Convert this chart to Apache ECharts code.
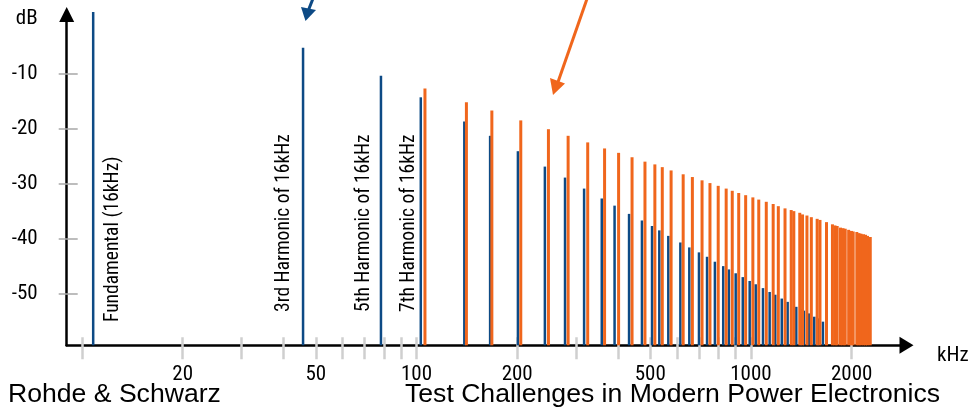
<!DOCTYPE html>
<html>
<head>
<meta charset="utf-8">
<script src="https://cdn.jsdelivr.net/npm/echarts@6/dist/echarts.min.js"></script>
<style>
html, body { margin: 0; padding: 0; background: #fff; }
#chart { width: 971px; height: 409px; }
</style>
</head>
<body>
<div id="chart"></div>
<script>
// harmonics of the 16 kHz fundamental (blue)
const blueKHz = [10.8, 45.8, 78.3, 103, 139, 166, 201, 242, 278, 317,
  358, 391, 432, 472, 506, 532, 566, 615, 654, 699,
  739, 780, 826, 859, 900, 945, 991, 1033, 1086, 1137,
  1182, 1236, 1287, 1366, 1408, 1440, 1488, 1546, 1586, 1641];
const blueDb = [1.2, -5.3, -10.4, -14.3, -18.7, -21.3, -24.1, -26.9, -28.9, -30.9,
  -32.7, -34.0, -35.5, -36.7, -37.7, -38.5, -39.5, -40.7, -41.6, -42.5,
  -43.3, -44.2, -45.0, -45.6, -46.3, -47.0, -47.7, -48.3, -49.0, -49.7,
  -50.2, -50.9, -51.5, -52.4, -52.8, -53.1, -53.6, -54.2, -54.5, -55.1];

// orange spectrum lines
const orangeKHz = [106, 141, 168, 205, 248, 284, 325, 365, 402, 441,
  482, 516, 543, 577, 627, 668, 714, 754, 798, 843,
  879, 919, 964, 1013, 1055, 1111, 1165, 1207, 1264, 1319,
  1343, 1399, 1426, 1470, 1515, 1577, 1608, 1682, 1752, 1783,
  1810, 1852, 1884, 1913, 1959, 1997, 2021, 2072, 2103, 2132,
  2169, 2200, 2230, 2273];
const orangeDb = [-12.7, -15.2, -16.7, -18.5, -20.1, -21.3, -22.5, -23.6, -24.4, -25.2,
  -26.0, -26.5, -27.0, -27.6, -28.3, -28.8, -29.4, -29.9, -30.4, -30.9,
  -31.3, -31.7, -32.1, -32.5, -32.9, -33.3, -33.7, -34.1, -34.5, -34.8,
  -35.0, -35.3, -35.6, -35.8, -36.1, -36.4, -36.6, -37.0, -37.4, -37.6,
  -37.7, -38.0, -38.1, -38.2, -38.4, -38.6, -38.7, -38.8, -39.0, -39.1,
  -39.2, -39.3, -39.5, -39.7];

const xTickKHz = [10, 20, 30, 40, 50, 60, 70, 80, 90, 100,
  200, 300, 400, 500, 600, 700, 800, 900, 1000, 2000];
const xLabelKHz = [20, 50, 100, 200, 500, 1000, 2000];
const yTickDb = [-50, -40, -30, -20, -10];
const yLabelDb = [-50, -40, -30, -20, -10, 0];

const X_MIN = 9.0;
const X_MAX = 2917;
const Y_MIN = -59.4;
const Y_MAX = 0.76;

const BLUE = '#0d4a85';
const ORANGE = '#f0661c';
const NARROW = '"Liberation Sans Narrow", "Roboto Condensed", "DejaVu Sans Condensed", Roboto, sans-serif';

const chart = echarts.init(document.getElementById('chart'));

const stem = (width) => (params, api) => {
  const top = api.coord([api.value(0), api.value(1)]);
  const base = api.coord([api.value(0), Y_MIN]);
  return {
    type: 'line',
    shape: { x1: top[0], y1: top[1], x2: base[0], y2: base[1] },
    style: { stroke: api.visual('color'), lineWidth: width },
  };
};

const vText = (x, y, text) => ({
  type: 'text',
  x: x,
  y: y,
  rotation: Math.PI / 2,
  style: {
    text: text,
    font: '19.5px ' + NARROW,
    fill: '#000',
    align: 'left',
    verticalAlign: 'middle',
    textAlign: 'left',
    textVerticalAlign: 'middle',
  },
});

const option = {
  animation: false,
  backgroundColor: '#fff',
  grid: { left: 66.7, right: 64.5, top: 14.5, bottom: 63.7 },
  xAxis: [
    {
      type: 'log',
      min: X_MIN,
      max: X_MAX,
      position: 'bottom',
      axisLine: {
        show: true,
        onZero: false,
        lineStyle: { color: '#000', width: 2.5 },
        symbol: ['none', 'triangle'],
        symbolSize: [17, 14],
      },
      axisTick: { show: false },
      axisLabel: { show: false },
      splitLine: { show: false },
    },
    {
      type: 'value',
      min: Math.log10(X_MIN),
      max: Math.log10(X_MAX),
      position: 'bottom',
      offset: -8,
      axisLine: { show: false, onZero: false },
      axisTick: {
        show: true,
        customValues: xTickKHz.map(Math.log10),
        length: 22,
        lineStyle: { color: '#cfcfcf', width: 2.5 },
      },
      axisLabel: {
        customValues: xLabelKHz.map(Math.log10),
        formatter: (v) => String(Math.round(Math.pow(10, v))),
        margin: 27,
        fontSize: 21,
        fontFamily: NARROW,
        color: '#000',
      },
      splitLine: { show: false },
    },
  ],
  yAxis: [
    {
      type: 'value',
      min: Y_MIN,
      max: Y_MAX,
      position: 'left',
      axisLine: {
        show: true,
        onZero: false,
        lineStyle: { color: '#000', width: 2.5 },
        symbol: ['none', 'triangle'],
        symbolSize: [15, 15],
      },
      axisTick: { show: false },
      axisLabel: { show: false },
      splitLine: { show: false },
    },
    {
      type: 'value',
      min: Y_MIN,
      max: Y_MAX,
      position: 'left',
      offset: -11,
      axisLine: { show: false, onZero: false },
      axisTick: {
        show: true,
        customValues: yTickDb,
        length: 19,
        lineStyle: { color: '#a8a8a8', width: 1.5 },
      },
      axisLabel: {
        customValues: yLabelDb,
        formatter: (v) => (v === 0 ? 'dB' : String(v)),
        margin: 40,
        padding: [6, 0, 0, 0],
        fontSize: 21,
        fontFamily: NARROW,
        color: '#000',
      },
      splitLine: { show: false },
    },
  ],
  series: [
    {
      name: 'Harmonics of 16kHz',
      type: 'custom',
      xAxisIndex: 0,
      yAxisIndex: 0,
      renderItem: stem(2.5),
      itemStyle: { color: BLUE },
      encode: { x: 0, y: 1 },
      data: blueKHz.map((f, i) => [f, blueDb[i]]),
      z: 3,
    },
    {
      name: 'Switching spectrum',
      type: 'custom',
      xAxisIndex: 0,
      yAxisIndex: 0,
      renderItem: stem(3),
      itemStyle: { color: ORANGE },
      encode: { x: 0, y: 1 },
      data: orangeKHz.map((f, i) => [f, orangeDb[i]]),
      z: 4,
    },
  ],
  graphic: [
    vText(113, 322, 'Fundamental (16kHz)'),
    vText(284, 312, '3rd Harmonic of 16kHz'),
    vText(364, 312, '5th Harmonic of 16kHz'),
    vText(409, 312, '7th Harmonic of 16kHz'),
    {
      type: 'text',
      x: 937,
      y: 356,
      style: { text: 'kHz', font: '21px ' + NARROW, fill: '#000', align: 'left', verticalAlign: 'middle', textAlign: 'left', textVerticalAlign: 'middle' },
    },
    {
      type: 'text',
      x: 8,
      y: 395,
      style: { text: 'Rohde & Schwarz', font: '26.6px "Liberation Sans", Arial, sans-serif', fill: '#000', align: 'left', verticalAlign: 'middle', textAlign: 'left', textVerticalAlign: 'middle' },
    },
    {
      type: 'text',
      x: 405,
      y: 395,
      style: { text: 'Test Challenges in Modern Power Electronics', font: '26.6px "Liberation Sans", Arial, sans-serif', fill: '#000', align: 'left', verticalAlign: 'middle', textAlign: 'left', textVerticalAlign: 'middle' },
    },
    // blue arrow at the top
    { type: 'line', shape: { x1: 314, y1: -4, x2: 308.5, y2: 10 }, style: { stroke: BLUE, lineWidth: 3 } },
    { type: 'polygon', shape: { points: [[301, 7], [316, 10], [305.5, 21]] }, style: { fill: BLUE } },
    // orange arrow
    { type: 'line', shape: { x1: 588, y1: -4, x2: 558, y2: 82 }, style: { stroke: ORANGE, lineWidth: 3 } },
    { type: 'polygon', shape: { points: [[550, 78], [565, 83.5], [553, 95]] }, style: { fill: ORANGE } },
  ],
};

chart.setOption(option);
</script>
</body>
</html>
